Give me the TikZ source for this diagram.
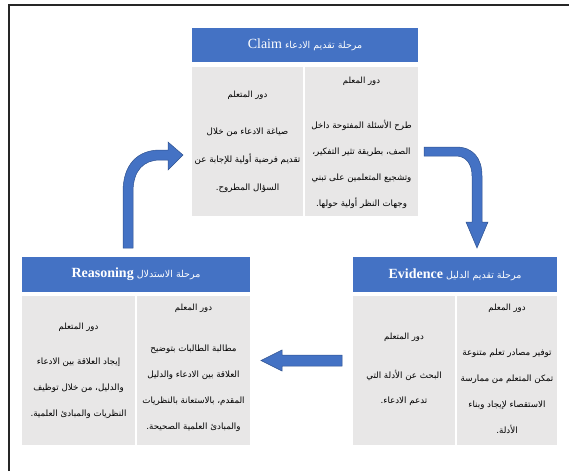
\documentclass[tikz,border=0pt]{standalone}
\usepackage{fontspec}
\setmainfont{Liberation Serif}
\newfontfamily\arabicfont[Script=Arabic]{DejaVu Sans}
\newfontfamily\latinhead{Liberation Serif}
\TeXXeTstate=1
\definecolor{hblue}{RGB}{68,114,196}
\definecolor{hblueline}{RGB}{47,82,143}
\definecolor{cellgray}{RGB}{232,231,231}
\tikzset{
  hdrbox/.style={fill=hblue, draw=none, inner sep=0pt, outer sep=0pt, anchor=north west},
  cellbox/.style={fill=cellgray, draw=none, inner sep=0pt, outer sep=0pt, anchor=north west},
  hdrtext/.style={text=white, inner sep=0pt, font=\arabicfont\fontsize{9.5}{11}\selectfont},
  roletitle/.style={inner sep=0pt, font=\arabicfont\fontsize{8.5}{10}\selectfont},
  bodytext/.style={inner sep=0pt, align=center, font=\arabicfont\fontsize{8.7}{26}\selectfont},
  blockarrow/.style={fill=hblue, draw=hblueline, line width=0.5pt},
  frameline/.style={draw=black!85, line width=1.2pt}
}
\begin{document}
\begin{tikzpicture}[x=1pt,y=-1pt]
\useasboundingbox (0,0) rectangle (569,471);
% outer frame (top and left only)
\draw[frameline] (9,471) -- (9,5) -- (569,5);

% ---------- Claim ----------
\node[hdrbox, minimum width=226pt, minimum height=34pt] (claimH) at (192,28) {};
\node[cellbox, minimum width=111pt, minimum height=149pt] (claimL) at (192,67) {};
\node[cellbox, minimum width=113pt, minimum height=149pt] (claimR) at (305,67) {};
\node[hdrtext] (claimT) at (claimH.center) {\beginR مرحلة تقديم الادعاء {\latinhead\fontsize{14}{16}\selectfont Claim}\endR};
\node[roletitle] (claimRt) at (361.5,81) {\beginR دور المعلم\endR};
\node[bodytext] (claimRb) at (361.5,164) {\beginR طرح الأسئلة المفتوحة داخل\endR\\\beginR الصف، بطريقة تثير التفكير،\endR\\\beginR وتشجيع المتعلمين على تبني\endR\\\beginR وجهات النظر أولية حولها.\endR};
\node[roletitle] (claimLt) at (247.5,95) {\beginR دور المتعلم\endR};
\node[bodytext, font=\arabicfont\fontsize{8.7}{28}\selectfont] (claimLb) at (247.5,160) {\beginR صياغة الادعاء من خلال\endR\\\beginR تقديم فرضية أولية للإجابة عن\endR\\\beginR السؤال المطروح.\endR};

% ---------- Reasoning ----------
\node[hdrbox, minimum width=228pt, minimum height=35pt] (reasH) at (22,257) {};
\node[cellbox, minimum width=113pt, minimum height=149pt] (reasL) at (22,296) {};
\node[cellbox, minimum width=113pt, minimum height=149pt] (reasR) at (137,296) {};
\node[hdrtext] (reasT) at (reasH.center) {\beginR مرحلة الاستدلال {\latinhead\bfseries\fontsize{14}{16}\selectfont Reasoning}\endR};
\node[roletitle] (reasRt) at (193.5,308) {\beginR دور المعلم\endR};
\node[bodytext] (reasRb) at (193.5,388) {\beginR مطالبة الطالبات بتوضيح\endR\\\beginR العلاقة بين الادعاء والدليل\endR\\\beginR المقدم، بالاستعانة بالنظريات\endR\\\beginR والمبادئ العلمية الصحيحة.\endR};
\node[roletitle] (reasLt) at (78.5,327) {\beginR دور المتعلم\endR};
\node[bodytext] (reasLb) at (78.5,388) {\beginR إيجاد العلاقة بين الادعاء\endR\\\beginR والدليل، من خلال توظيف\endR\\\beginR النظريات والمبادئ العلمية.\endR};

% ---------- Evidence ----------
\node[hdrbox, minimum width=204pt, minimum height=35pt] (eviH) at (353,257) {};
\node[cellbox, minimum width=102pt, minimum height=149pt] (eviL) at (353,296) {};
\node[cellbox, minimum width=100pt, minimum height=149pt] (eviR) at (457,296) {};
\node[hdrtext] (eviT) at (eviH.center) {\beginR مرحلة تقديم الدليل {\latinhead\bfseries\fontsize{14}{16}\selectfont Evidence}\endR};
\node[roletitle] (eviRt) at (507,308) {\beginR دور المعلم\endR};
\node[bodytext] (eviRb) at (507,391) {\beginR توفير مصادر تعلم متنوعة\endR\\\beginR تمكن المتعلم من ممارسة\endR\\\beginR الاستقصاء لإيجاد وبناء\endR\\\beginR الأدلة.\endR};
\node[roletitle] (eviLt) at (404,337) {\beginR دور المتعلم\endR};
\node[bodytext, font=\arabicfont\fontsize{8.7}{25}\selectfont] (eviLb) at (404,387.5) {\beginR البحث عن الأدلة التي\endR\\\beginR تدعم الادعاء.\endR};

% ---------- block arrows ----------
% Reasoning -> Claim (up then right)
\draw[blockarrow] (123,248) -- (123,192) .. controls (123,164) and (138,150) .. (160,150)
  -- (168,150) -- (168,142) -- (183,155) -- (168,170) -- (168,160) -- (160,160)
  .. controls (144,160) and (133,170) .. (133,192) -- (133,248) -- cycle;
% Claim -> Evidence (right then down)
\draw[blockarrow] (424,147) -- (456,147) .. controls (473,147) and (482,158) .. (482,176)
  -- (482,222) -- (488,222) -- (477,248) -- (466,222) -- (472,222) -- (472,176)
  .. controls (472,164) and (466,156) .. (456,156) -- (424,156) -- cycle;
% Evidence -> Reasoning (left)
\draw[blockarrow] (342,355) -- (282,355) -- (282,350) -- (261,360.5) -- (282,371) -- (282,366) -- (342,366) -- cycle;
\end{tikzpicture}
\end{document}
